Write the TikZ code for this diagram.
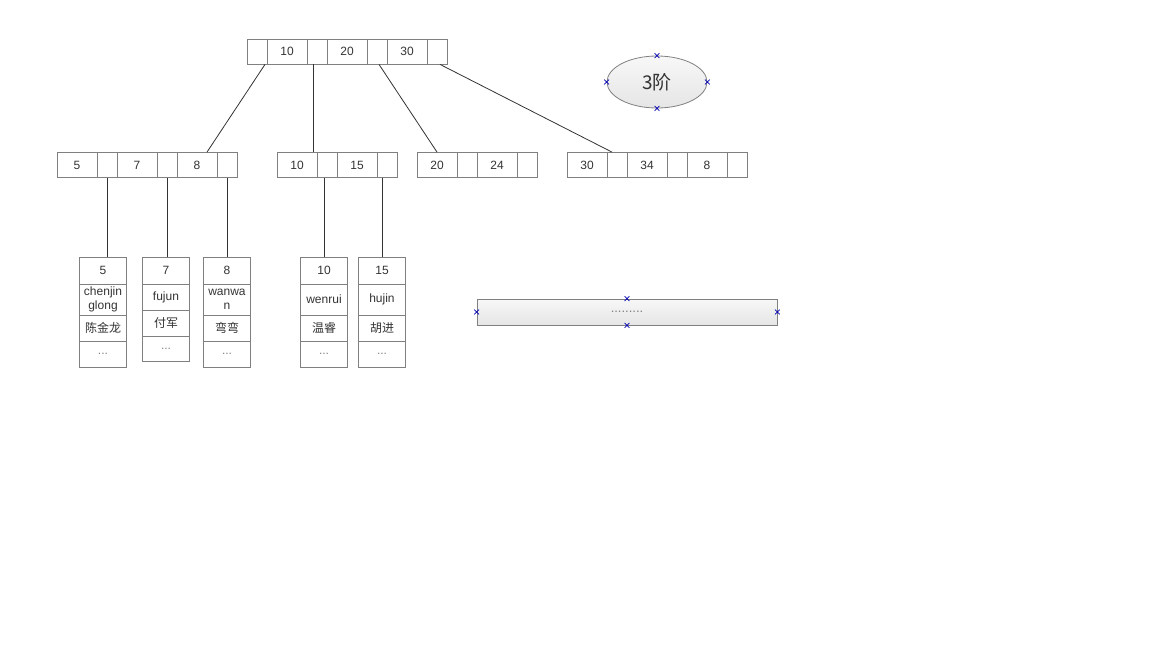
\documentclass[tikz,border=0pt]{standalone}
\usepackage{fontspec}
\setmainfont{Liberation Sans}
\newfontfamily\cjk{Noto Sans CJK SC}
\usetikzlibrary{positioning, shapes.geometric, shapes.misc}
\tikzset{
  keycell/.style={draw=gray, line width=0.8pt, minimum width=40pt, minimum height=25pt, inner sep=0pt,
                  font=\fontsize{12}{14}\selectfont, text=black!80},
  ptrcell/.style={keycell, minimum width=20pt},
  rowcell/.style={draw=gray, line width=0.8pt, minimum width=47pt, inner sep=0pt, align=center,
                  font=\fontsize{12}{14}\selectfont, text=black!80},
  link/.style={line width=0.8pt, black!80},
  note/.style={draw=gray, line width=0.8pt, top color=gray!6, bottom color=gray!20},
  handle/.style={cross out, draw=blue!70!black, line width=0.8pt, minimum size=4pt, inner sep=0pt}
}

\begin{document}
\begin{tikzpicture}[x=1pt, y=-1pt]
    \useasboundingbox (0,0) rectangle (1152,648);
    \node[ptrcell] (r0) at (257, 51.5) {};
    \node[keycell] (r1) at (287, 51.5) {10};
    \node[ptrcell] (r2) at (317, 51.5) {};
    \node[keycell] (r3) at (347, 51.5) {20};
    \node[ptrcell] (r4) at (377, 51.5) {};
    \node[keycell] (r5) at (407, 51.5) {30};
    \node[ptrcell] (r6) at (437, 51.5) {};
    \node[keycell] (a1) at ( 77, 165) {5};
    \node[ptrcell] (a2) at (107, 165) {};
    \node[keycell] (a3) at (137, 165) {7};
    \node[ptrcell] (a4) at (167, 165) {};
    \node[keycell] (a5) at (197, 165) {8};
    \node[ptrcell] (a6) at (227, 165) {};
    \node[keycell] (b1) at (297, 165) {10};
    \node[ptrcell] (b2) at (327, 165) {};
    \node[keycell] (b3) at (357, 165) {15};
    \node[ptrcell] (b4) at (387, 165) {};
    \node[keycell] (c1) at (437, 165) {20};
    \node[ptrcell] (c2) at (467, 165) {};
    \node[keycell] (c3) at (497, 165) {24};
    \node[ptrcell] (c4) at (527, 165) {};
    \node[keycell] (d1) at (587, 165) {30};
    \node[ptrcell] (d2) at (617, 165) {};
    \node[keycell] (d3) at (647, 165) {34};
    \node[ptrcell] (d4) at (677, 165) {};
    \node[keycell] (d5) at (707, 165) {8};
    \node[ptrcell] (d6) at (737, 165) {};
    \node[rowcell, minimum height=27pt] (l1a) at (103, 270.5) {5};
    \node[rowcell, minimum height=31pt] (l1b) at (103, 299.5) {chenjin\\glong};
    \node[rowcell, minimum height=26pt] (l1c) at (103, 328) {\cjk 陈金龙};
    \node[rowcell, minimum height=26pt, text=gray] (l1d) at (103, 354) {...};
    \node[rowcell, minimum height=27pt] (l2a) at (166, 270.5) {7};
    \node[rowcell, minimum height=26pt] (l2b) at (166, 297) {fujun};
    \node[rowcell, minimum height=26pt] (l2c) at (166, 323) {\cjk 付军};
    \node[rowcell, minimum height=25pt, text=gray] (l2d) at (166, 348.5) {...};
    \node[rowcell, minimum height=27pt] (l3a) at (227, 270.5) {8};
    \node[rowcell, minimum height=31pt] (l3b) at (227, 299.5) {wanwa\\n};
    \node[rowcell, minimum height=26pt] (l3c) at (227, 328) {\cjk 弯弯};
    \node[rowcell, minimum height=26pt, text=gray] (l3d) at (227, 354) {...};
    \node[rowcell, minimum height=27pt] (l4a) at (324, 270.5) {10};
    \node[rowcell, minimum height=31pt] (l4b) at (324, 299.5) {wenrui};
    \node[rowcell, minimum height=26pt] (l4c) at (324, 328) {\cjk 温睿};
    \node[rowcell, minimum height=26pt, text=gray] (l4d) at (324, 354) {...};
    \node[rowcell, minimum height=27pt] (l5a) at (382, 270.5) {15};
    \node[rowcell, minimum height=31pt] (l5b) at (382, 299.5) {hujin};
    \node[rowcell, minimum height=26pt] (l5c) at (382, 328) {\cjk 胡进};
    \node[rowcell, minimum height=26pt, text=gray] (l5d) at (382, 354) {...};
    \node[note, ellipse, minimum width=100pt, minimum height=52pt, text=black!80,
          font=\cjk\fontsize{19}{21}\selectfont] (order) at (657, 82) {3阶};
    \node[note, minimum width=300pt, minimum height=26pt, inner sep=0pt, text=gray,
          font=\fontsize{13}{14}\selectfont] (more) at (627, 312) {.........};
    \node[handle] (on) at (order.north) {};
    \node[handle] (os) at (order.south) {};
    \node[handle] (ow) at (order.west) {};
    \node[handle] (oe) at (order.east) {};
    \node[handle] (mn) at (more.north) {};
    \node[handle] (ms) at (more.south) {};
    \node[handle] (mw) at (more.west) {};
    \node[handle] (me) at (more.east) {};
    \draw[link] ([xshift=8pt]r0.south) -- ([xshift=10pt]a5.north);
    \draw[link] ([xshift=-4pt]r2.south) -- ([xshift=-4pt]r2.south |- b1.north);
    \draw[link] ([xshift=2pt]r4.south) -- (c1.north);
    \draw[link] ([xshift=3pt]r6.south) -- ([xshift=-5pt]d2.north);
    \draw[link] (a2.south) -- (a2.south |- l1a.north);
    \draw[link] (a4.south) -- (a4.south |- l2a.north);
    \draw[link] (a6.south) -- (a6.south |- l3a.north);
    \draw[link] (b2.south -| l4a.north) -- (l4a.north);
    \draw[link] (b4.south -| l5a.north) -- (l5a.north);
  \end{tikzpicture}
\end{document}
